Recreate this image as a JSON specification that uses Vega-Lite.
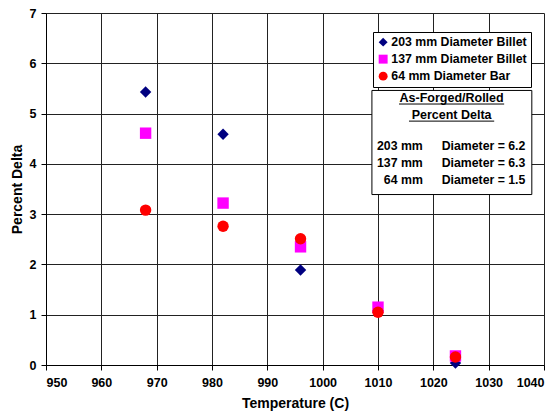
{
  "$schema": "https://vega.github.io/schema/vega-lite/v6.json",
  "width": 498,
  "height": 352,
  "autosize": {"type": "none"},
  "padding": {"left": 46, "top": 13, "right": 14, "bottom": 53},
  "background": "white",
  "config": {
    "font": "Liberation Sans",
    "view": {"stroke": null},
    "axis": {
      "labelFont": "Liberation Sans",
      "labelFontWeight": "bold",
      "labelFontSize": 12.5,
      "labelColor": "black",
      "titleFont": "Liberation Sans",
      "titleFontWeight": "bold",
      "titleFontSize": 14,
      "titleColor": "black",
      "domainColor": "black",
      "tickColor": "black",
      "tickSize": 5,
      "gridColor": "#222",
      "gridWidth": 1
    },
    "legend": {
      "labelFont": "Liberation Sans",
      "labelFontWeight": "bold",
      "labelFontSize": 12.3,
      "labelColor": "black"
    }
  },
  "datasets": {
    "points": [
      {"Temperature": 968, "Delta": 5.43, "Series": "203 mm Diameter Billet"},
      {"Temperature": 982, "Delta": 4.59, "Series": "203 mm Diameter Billet"},
      {"Temperature": 996, "Delta": 1.89, "Series": "203 mm Diameter Billet"},
      {"Temperature": 1010, "Delta": 1.08, "Series": "203 mm Diameter Billet"},
      {"Temperature": 1024, "Delta": 0.04, "Series": "203 mm Diameter Billet"},
      {"Temperature": 968, "Delta": 4.61, "Series": "137 mm Diameter Billet"},
      {"Temperature": 982, "Delta": 3.22, "Series": "137 mm Diameter Billet"},
      {"Temperature": 996, "Delta": 2.35, "Series": "137 mm Diameter Billet"},
      {"Temperature": 1010, "Delta": 1.15, "Series": "137 mm Diameter Billet"},
      {"Temperature": 1024, "Delta": 0.18, "Series": "137 mm Diameter Billet"},
      {"Temperature": 968, "Delta": 3.08, "Series": "64 mm Diameter Bar"},
      {"Temperature": 982, "Delta": 2.76, "Series": "64 mm Diameter Bar"},
      {"Temperature": 996, "Delta": 2.51, "Series": "64 mm Diameter Bar"},
      {"Temperature": 1010, "Delta": 1.05, "Series": "64 mm Diameter Bar"},
      {"Temperature": 1024, "Delta": 0.16, "Series": "64 mm Diameter Bar"}
    ],
    "one": [{}]
  },
  "data": {"name": "points"},
  "layer": [
    {
      "mark": {"type": "point", "opacity": 0},
      "encoding": {
        "x": {
          "field": "Temperature", "type": "quantitative",
          "scale": {"domain": [950, 1040], "nice": false, "zero": false},
          "axis": {
            "title": "Temperature (C)",
            "titlePadding": 8,
            "format": "d",
            "values": [950,955,960,965,970,975,980,985,990,995,1000,1005,1010,1015,1020,1025,1030,1035,1040],
            "labelExpr": "datum.value % 10 == 0 ? datum.label : ''",
            "gridOpacity": {"condition": {"test": "datum.value % 10 != 0", "value": 0}, "value": 1},
            "labelPadding": 6
          }
        },
        "y": {
          "field": "Delta", "type": "quantitative",
          "scale": {"domain": [0, 7], "nice": false},
          "axis": {
            "title": "Percent Delta",
            "titlePadding": 5,
            "values": [0,0.5,1,1.5,2,2.5,3,3.5,4,4.5,5,5.5,6,6.5,7],
            "labelExpr": "datum.value % 1 == 0 ? datum.label : ''",
            "gridOpacity": {"condition": {"test": "datum.value % 1 != 0", "value": 0}, "value": 1},
            "labelPadding": 5
          }
        }
      }
    },
    {
      "data": {"name": "one"},
      "mark": {"type": "rect", "fill": "white", "stroke": "black", "strokeWidth": 1},
      "encoding": {
        "x": {"datum": 1008.9, "type": "quantitative"},
        "x2": {"datum": 1037.8},
        "y": {"datum": 5.46, "type": "quantitative"},
        "y2": {"datum": 3.39}
      }
    },
    {
      "data": {"name": "one"},
      "mark": {"type": "text", "text": "As-Forged/Rolled", "font": "Liberation Sans", "fontWeight": "bold", "fontSize": 12.5, "align": "center", "baseline": "alphabetic", "color": "black"},
      "encoding": {"x": {"datum": 1023.3, "type": "quantitative"}, "y": {"datum": 5.24, "type": "quantitative"}}
    },
    {
      "data": {"name": "one"},
      "mark": {"type": "text", "text": "Percent  Delta", "font": "Liberation Sans", "fontWeight": "bold", "fontSize": 12.5, "align": "center", "baseline": "alphabetic", "color": "black"},
      "encoding": {"x": {"datum": 1023.3, "type": "quantitative"}, "y": {"datum": 4.9, "type": "quantitative"}}
    },
    {
      "data": {"name": "one"},
      "mark": {"type": "rule", "color": "black", "strokeWidth": 1},
      "encoding": {"x": {"datum": 1013.8, "type": "quantitative"}, "x2": {"datum": 1032.8}, "y": {"datum": 5.19, "type": "quantitative"}}
    },
    {
      "data": {"name": "one"},
      "mark": {"type": "rule", "color": "black", "strokeWidth": 1},
      "encoding": {"x": {"datum": 1015.6, "type": "quantitative"}, "x2": {"datum": 1031.0}, "y": {"datum": 4.85, "type": "quantitative"}}
    },
    {
      "data": {"name": "one"},
      "mark": {"type": "text", "text": "203 mm", "font": "Liberation Sans", "fontWeight": "bold", "fontSize": 12.3, "align": "right", "baseline": "middle", "color": "black"},
      "encoding": {"x": {"datum": 1018.1, "type": "quantitative"}, "y": {"datum": 4.36, "type": "quantitative"}}
    },
    {
      "data": {"name": "one"},
      "mark": {"type": "text", "text": "137 mm", "font": "Liberation Sans", "fontWeight": "bold", "fontSize": 12.3, "align": "right", "baseline": "middle", "color": "black"},
      "encoding": {"x": {"datum": 1018.1, "type": "quantitative"}, "y": {"datum": 4.02, "type": "quantitative"}}
    },
    {
      "data": {"name": "one"},
      "mark": {"type": "text", "text": "64 mm", "font": "Liberation Sans", "fontWeight": "bold", "fontSize": 12.3, "align": "right", "baseline": "middle", "color": "black"},
      "encoding": {"x": {"datum": 1018.1, "type": "quantitative"}, "y": {"datum": 3.68, "type": "quantitative"}}
    },
    {
      "data": {"name": "one"},
      "mark": {"type": "text", "text": "Diameter = 6.2", "font": "Liberation Sans", "fontWeight": "bold", "fontSize": 12.3, "align": "left", "baseline": "middle", "color": "black"},
      "encoding": {"x": {"datum": 1021.5, "type": "quantitative"}, "y": {"datum": 4.36, "type": "quantitative"}}
    },
    {
      "data": {"name": "one"},
      "mark": {"type": "text", "text": "Diameter = 6.3", "font": "Liberation Sans", "fontWeight": "bold", "fontSize": 12.3, "align": "left", "baseline": "middle", "color": "black"},
      "encoding": {"x": {"datum": 1021.5, "type": "quantitative"}, "y": {"datum": 4.02, "type": "quantitative"}}
    },
    {
      "data": {"name": "one"},
      "mark": {"type": "text", "text": "Diameter = 1.5", "font": "Liberation Sans", "fontWeight": "bold", "fontSize": 12.3, "align": "left", "baseline": "middle", "color": "black"},
      "encoding": {"x": {"datum": 1021.5, "type": "quantitative"}, "y": {"datum": 3.68, "type": "quantitative"}}
    },
    {
      "mark": {"type": "point", "filled": true, "opacity": 1, "size": 130, "strokeWidth": 0},
      "encoding": {
        "x": {"field": "Temperature", "type": "quantitative"},
        "y": {"field": "Delta", "type": "quantitative"},
        "color": {
          "field": "Series", "type": "nominal",
          "scale": {
            "domain": ["203 mm Diameter Billet", "137 mm Diameter Billet", "64 mm Diameter Bar"],
            "range": ["#000080", "#FF00FF", "#FF0000"]
          },
          "legend": {
            "title": null,
            "orient": "none",
            "legendX": 327,
            "legendY": 19,
            "fillColor": "white",
            "strokeColor": "black",
            "padding": 4,
            "symbolSize": 80,
            "symbolStrokeWidth": 0,
            "labelOffset": 2,
            "rowPadding": 4,
            "symbolOffset": 0
          }
        },
        "shape": {
          "field": "Series", "type": "nominal",
          "scale": {
            "domain": ["203 mm Diameter Billet", "137 mm Diameter Billet", "64 mm Diameter Bar"],
            "range": ["diamond", "square", "circle"]
          }
        }
      }
    }
  ]
}
